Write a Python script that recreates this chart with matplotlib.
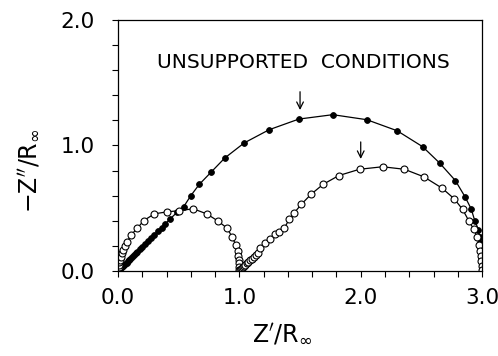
import matplotlib.pyplot as plt

# filled circles: single arc
filled_x = [0.005, 0.01, 0.015, 0.02, 0.03, 0.04, 0.05, 0.06, 0.07, 0.08, 0.09, 0.10,
            0.115, 0.13, 0.145, 0.16, 0.18, 0.20, 0.22, 0.245, 0.27, 0.30, 0.33,
            0.36, 0.39, 0.43, 0.49, 0.54, 0.60, 0.67, 0.77, 0.88, 1.04, 1.245,
            1.49, 1.77, 2.05, 2.30, 2.51, 2.65, 2.78, 2.86, 2.91, 2.94, 2.97,
            2.98, 2.985, 2.99, 2.993, 2.996, 2.998, 3.0]
filled_y = [0.005, 0.01, 0.015, 0.02, 0.028, 0.038, 0.048, 0.058, 0.067, 0.077, 0.086, 0.096,
            0.11, 0.125, 0.139, 0.154, 0.173, 0.192, 0.211, 0.235, 0.259, 0.288, 0.317,
            0.345, 0.374, 0.415, 0.47, 0.51, 0.60, 0.69, 0.79, 0.90, 1.02, 1.125,
            1.21, 1.245, 1.205, 1.117, 0.99, 0.86, 0.72, 0.59, 0.495, 0.40, 0.33,
            0.27, 0.22, 0.17, 0.13, 0.09, 0.05, 0.01]

# open circles: two arcs
open_x = [0.002, 0.005, 0.008, 0.012, 0.017, 0.022, 0.03, 0.04, 0.055, 0.074, 0.11,
          0.16, 0.21, 0.30, 0.40, 0.50, 0.62, 0.73, 0.82, 0.90, 0.94, 0.97, 0.985,
          0.99, 0.994, 0.997, 0.999, 1.0,
          1.005, 1.012, 1.02, 1.03, 1.04, 1.05, 1.06, 1.075, 1.09, 1.105, 1.12,
          1.135, 1.15, 1.17, 1.21, 1.25, 1.29, 1.33, 1.37, 1.41, 1.45, 1.51, 1.59,
          1.69, 1.82, 1.99, 2.18, 2.36, 2.52, 2.67, 2.77, 2.84, 2.89, 2.93, 2.96,
          2.975, 2.985, 2.99, 2.994, 2.997, 3.0]
open_y = [0.01, 0.03, 0.05, 0.07, 0.09, 0.11, 0.14, 0.17, 0.20, 0.23, 0.29,
          0.34, 0.40, 0.455, 0.47, 0.48, 0.495, 0.455, 0.40, 0.34, 0.27, 0.21, 0.16,
          0.12, 0.09, 0.06, 0.03, 0.005,
          0.01, 0.017, 0.025, 0.033, 0.042, 0.051, 0.06, 0.072, 0.085, 0.098, 0.11,
          0.125, 0.14, 0.18, 0.22, 0.255, 0.295, 0.31, 0.34, 0.41, 0.46, 0.53, 0.61,
          0.69, 0.76, 0.81, 0.83, 0.81, 0.75, 0.66, 0.575, 0.49, 0.40, 0.335, 0.27,
          0.21, 0.16, 0.12, 0.08, 0.04, 0.005]

# arrows: (x, tail y, head y)
arrow_x = [1.5, 2.0]
arrow_tail = [1.45, 1.05]
arrow_head = [1.26, 0.87]

fig = plt.figure(figsize=(4.98, 3.56), dpi=100)
ax = fig.add_axes([0.237, 0.239, 0.731, 0.705])

ax.plot(filled_x, filled_y, '-', color='black', lw=0.9, marker='o', ms=4.2,
        mfc='black', mec='black', mew=0.6)
ax.plot(open_x, open_y, '-', color='black', lw=0.9, marker='o', ms=5,
        mfc='white', mec='black', mew=0.8)

for x, t, h in zip(arrow_x, arrow_tail, arrow_head):
    ax.annotate('', xy=(x, h), xytext=(x, t),
                arrowprops=dict(arrowstyle='->', color='black', lw=0.9,
                                mutation_scale=12))

ax.text(1.53, 1.66, 'UNSUPPORTED  CONDITIONS', fontsize=14.5, ha='center', va='center')

ax.set_xlim(0, 3.0)
ax.set_ylim(0, 2.0)
ax.set_xticks([0, 1, 2, 3])
ax.set_xticklabels(['0.0', '1.0', '2.0', '3.0'])
ax.set_yticks([0, 1, 2])
ax.set_yticklabels(['0.0', '1.0', '2.0'])
ax.set_xticks([i * 0.2 for i in range(16)], minor=True)
ax.set_yticks([i * 0.2 for i in range(11)], minor=True)
ax.tick_params(axis='both', which='both', direction='out', length=4, width=0.8,
               labelsize=15.5)
ax.tick_params(axis='x', which='major', pad=8)
ax.tick_params(axis='y', which='major', pad=13)
for s in ax.spines.values():
    s.set_linewidth(0.9)

ax.set_xlabel(r"$\mathrm{Z}'/\mathrm{R}_\infty$", fontsize=17)
ax.set_ylabel(r"$-\mathrm{Z}''/\mathrm{R}_\infty$", fontsize=17)
ax.xaxis.set_label_coords(0.45, -0.2)
ax.yaxis.set_label_coords(-0.21, 0.4)

plt.savefig('out.png', dpi=100)
